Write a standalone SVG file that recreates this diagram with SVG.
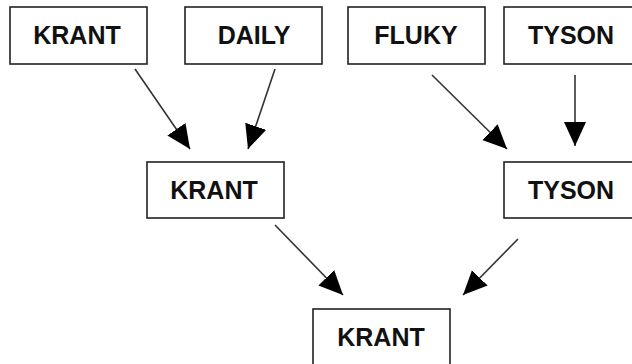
<svg xmlns="http://www.w3.org/2000/svg" width="632" height="364" viewBox="0 0 632 364">
  <style>
    .box { fill: #ffffff; stroke: #222222; stroke-width: 1.6; }
    .lbl { font-family: "Liberation Sans", Arial, sans-serif; font-weight: bold; font-size: 25px; fill: #111111; text-anchor: middle; }
    .edge { stroke: #333333; stroke-width: 1.6; fill: none; marker-end: url(#head); }
  </style>
  <defs>
    <marker id="head" markerUnits="userSpaceOnUse" markerWidth="26" markerHeight="24" refX="24" refY="11" orient="auto">
      <path d="M0,0 L24,11 L0,22 Z" fill="#000000"/>
    </marker>
  </defs>
  <rect x="0" y="0" width="632" height="364" fill="#ffffff"/>
  <g id="connectors">
    <line class="edge" x1="135" y1="69" x2="190" y2="149"/>
    <line class="edge" x1="275" y1="69" x2="248" y2="149"/>
    <line class="edge" x1="432" y1="75" x2="507" y2="149"/>
    <line class="edge" x1="575" y1="75" x2="575" y2="146"/>
    <line class="edge" x1="275" y1="225" x2="343" y2="295"/>
    <line class="edge" x1="518" y1="239" x2="463" y2="295"/>
  </g>
  <g id="krant-top">
    <rect class="box" x="10" y="7" width="137" height="57"/>
    <text class="lbl" x="77" y="43.5">KRANT</text>
  </g>
  <g id="daily">
    <rect class="box" x="185" y="7" width="137" height="57"/>
    <text class="lbl" x="254" y="43.5">DAILY</text>
  </g>
  <g id="fluky">
    <rect class="box" x="348" y="7" width="137" height="57"/>
    <text class="lbl" x="416" y="43.5">FLUKY</text>
  </g>
  <g id="tyson-top">
    <rect class="box" x="504" y="7" width="137" height="57"/>
    <text class="lbl" x="571" y="43.5">TYSON</text>
  </g>
  <g id="krant-mid">
    <rect class="box" x="147" y="162" width="137" height="56"/>
    <text class="lbl" x="214" y="199">KRANT</text>
  </g>
  <g id="tyson-mid">
    <rect class="box" x="504" y="162" width="137" height="56"/>
    <text class="lbl" x="571" y="199">TYSON</text>
  </g>
  <g id="krant-bottom">
    <rect class="box" x="313" y="309" width="137" height="60"/>
    <text class="lbl" x="381" y="346">KRANT</text>
  </g>
</svg>
